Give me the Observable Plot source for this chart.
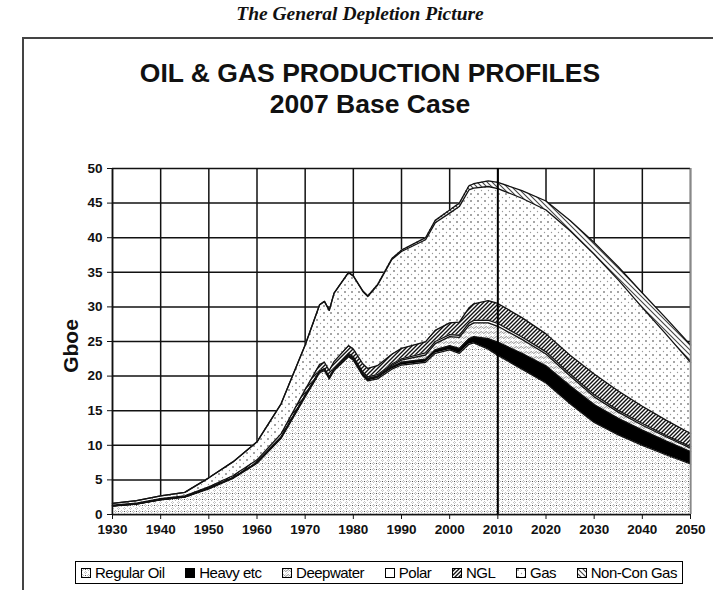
<!DOCTYPE html>
<html><head><meta charset="utf-8">
<script src="https://cdn.jsdelivr.net/npm/d3@7"></script>
<script src="https://cdn.jsdelivr.net/npm/@observablehq/plot@0.6"></script>
<style>
body{margin:0;background:#fff;font-family:"Liberation Sans",Arial,sans-serif;}
#wrap{position:relative;width:713px;height:590px;overflow:hidden;background:#fff;}
#head{position:absolute;left:0;top:3px;width:720px;text-align:center;font-family:"Liberation Serif","Times New Roman",serif;font-style:italic;font-weight:bold;font-size:19.5px;color:#111;}
#box{position:absolute;left:22px;top:37px;width:740px;height:620px;border:2px solid #444;box-sizing:border-box;}
.t{position:absolute;left:0;width:740px;text-align:center;font-weight:bold;font-size:26.5px;color:#111;}
#chart{position:absolute;left:0;top:150px;}
#ylab{position:absolute;left:71px;top:346px;transform:translate(-50%,-50%) rotate(-90deg);font-size:21px;font-weight:bold;color:#111;white-space:nowrap;}
#legend{position:absolute;left:75px;top:561px;width:608px;height:23px;border:1.5px solid #000;box-sizing:border-box;display:flex;align-items:center;justify-content:space-between;padding:0 5px;font-size:15px;letter-spacing:-0.5px;color:#000;white-space:nowrap;}
#legend .it{display:flex;align-items:center;gap:4px;}
</style></head><body>
<div id="wrap">
  <div id="head">The General Depletion Picture</div>
  <div id="box"></div>
  <div class="t" style="top:58px;">OIL &amp; GAS PRODUCTION PROFILES</div>
  <div class="t" style="top:89px;">2007 Base Case</div>
  <div id="chart"></div>
  <div id="ylab">Gboe</div>
  <div id="legend"></div>
</div>
<script>
const years      = [1930,1935,1940,1945,1950,1955,1960,1965,1970,1973,1974,1975,1976,1979,1980,1982,1983,1985,1988,1990,1995,1997,2000,2002,2004,2005,2008,2010,2015,2020,2025,2030,2035,2040,2045,2050];
const regularOil = [1.2,1.5,2.1,2.5,3.7,5.2,7.4,11.0,17.0,20.5,20.8,19.6,20.8,22.8,22.3,20.0,19.3,19.6,21.0,21.6,22.0,23.3,23.8,23.3,24.6,24.8,23.9,23.0,21.0,19.0,16.0,13.3,11.5,10.0,8.6,7.3];
const heavyEtc   = [0.05,0.05,0.05,0.05,0.1,0.1,0.1,0.15,0.2,0.2,0.2,0.2,0.2,0.25,0.25,0.3,0.3,0.3,0.35,0.4,0.45,0.5,0.6,0.7,0.8,0.9,1.5,1.9,2.3,2.5,2.6,2.6,2.4,2.2,2.0,1.8];
const deepwater  = [0,0,0,0,0,0,0,0,0,0,0,0,0,0.05,0.05,0.05,0.1,0.1,0.2,0.3,0.6,0.9,1.3,1.6,1.9,2.0,2.3,2.3,2.0,1.7,1.4,1.1,0.9,0.7,0.6,0.5];
const polar      = [0,0,0,0,0,0,0,0,0.05,0.1,0.1,0.1,0.1,0.2,0.2,0.2,0.2,0.2,0.2,0.2,0.3,0.3,0.3,0.3,0.35,0.35,0.4,0.4,0.35,0.3,0.3,0.3,0.25,0.25,0.2,0.2];
const ngl        = [0.1,0.1,0.15,0.15,0.2,0.3,0.4,0.5,0.8,0.9,0.9,0.9,1.0,1.1,1.1,1.2,1.2,1.3,1.4,1.5,1.6,1.6,1.7,1.9,2.2,2.4,2.8,2.9,2.8,2.6,2.7,3.0,2.8,2.5,2.2,1.9];
const gas        = [0.25,0.35,0.4,0.5,1.3,2.0,2.6,4.35,6.45,8.6,8.8,8.7,9.9,10.55,10.55,10.45,10.4,11.6,13.7,14.0,14.75,15.55,15.85,16.7,17.05,16.7,16.5,16.6,17.25,17.9,18.0,17.3,16.05,14.25,12.4,10.3];
const nonConGas  = [0,0,0,0,0,0,0,0,0,0,0,0,0,0.05,0.05,0.1,0.1,0.1,0.15,0.2,0.3,0.35,0.45,0.5,0.6,0.65,0.8,0.9,1.1,1.3,1.5,1.7,1.9,2.1,2.3,2.5];

const seriesNames = ["Regular Oil","Heavy etc","Deepwater","Polar","NGL","Gas","Non-Con Gas"];
const seriesValues = [regularOil,heavyEtc,deepwater,polar,ngl,gas,nonConGas];
const xTicks = [1930,1940,1950,1960,1970,1980,1990,2000,2010,2020,2030,2040,2050];
const yTicks = [0,5,10,15,20,25,30,35,40,45,50];
const splitYear = [2010];

const fills = ["url(#pReg)","#000","url(#pDeep)","#fff","url(#pNgl)","url(#pGas)","url(#pNon)"];

const rows = [];
seriesNames.forEach((s,i)=>years.forEach((y,j)=>rows.push({series:s,year:y,value:seriesValues[i][j]})));

const svg = Plot.plot({
  width:713, height:394,
  marginLeft:112, marginRight:23, marginTop:18, marginBottom:30,
  style:{fontFamily:"Liberation Sans, Arial, sans-serif", fontSize:"13.5px", fontWeight:"bold", color:"#111", background:"transparent"},
  x:{domain:[1930,2050], ticks:xTicks, tickFormat:d=>String(d), label:null, tickSize:5, tickPadding:5},
  y:{domain:[0,50], ticks:yTicks, label:null, tickSize:5, tickPadding:5},
  color:{domain:seriesNames, range:fills},
  marks:[
    Plot.ruleX(xTicks,{stroke:"#111",strokeWidth:1.5}),
    Plot.ruleY(yTicks,{stroke:"#111",strokeWidth:1.5}),
    Plot.areaY(rows, Plot.stackY({x:"year", y:"value", z:"series", fill:"series", order:seriesNames})),
    Plot.lineY(rows, Plot.stackY2({x:"year", y:"value", z:"series", order:seriesNames, stroke:"#111", strokeWidth:1.3})),
    Plot.ruleX(splitYear,{stroke:"#000",strokeWidth:2}),
    Plot.ruleX([1930],{stroke:"#111",strokeWidth:1.5}),
    Plot.ruleX([2050],{stroke:"#888",strokeWidth:1.5}),
    Plot.ruleY([0],{stroke:"#111",strokeWidth:1.5})
  ]
});

const defs = d3.select(svg).insert("defs",":first-child");
function pat(id,w,h,build){
  const p = defs.append("pattern").attr("id",id).attr("patternUnits","userSpaceOnUse").attr("width",w).attr("height",h);
  p.append("rect").attr("width",w).attr("height",h).attr("fill","#fff");
  build(p);
}
pat("pReg",6,6,p=>{
  p.append("path").attr("d","M1.5,0.5 L2.5,1.5 L1.5,2.5 L0.5,1.5 Z").attr("fill","none").attr("stroke","#8a8a8a").attr("stroke-width",0.7);
  p.append("path").attr("d","M4.5,3.5 L5.5,4.5 L4.5,5.5 L3.5,4.5 Z").attr("fill","none").attr("stroke","#9a9a9a").attr("stroke-width",0.7);
  p.append("circle").attr("cx",4.5).attr("cy",1.5).attr("r",0.6).attr("fill","#333");
});
pat("pGas",7,7,p=>{
  p.append("circle").attr("cx",2).attr("cy",2).attr("r",0.75).attr("fill","#222");
  p.append("circle").attr("cx",5.5).attr("cy",5.5).attr("r",0.65).attr("fill","#999");
});
pat("pNgl",4,4,p=>{
  p.append("path").attr("d","M-1,1 L1,-1 M0,4 L4,0 M3,5 L5,3").attr("stroke","#111").attr("stroke-width",1.4);
});
pat("pDeep",5,5,p=>{
  p.append("path").attr("d","M0,2.5 Q1.25,0.5 2.5,2.5 T5,2.5").attr("fill","none").attr("stroke","#666").attr("stroke-width",0.8);
  p.append("path").attr("d","M0,5 L5,0").attr("stroke","#aaa").attr("stroke-width",0.5);
});
pat("pNon",5,5,p=>{
  p.append("path").attr("d","M-1,-1 L6,6 M-1,4 L1,6 M4,-1 L6,1").attr("stroke","#444").attr("stroke-width",1.1);
});

document.getElementById("chart").appendChild(svg);

const leg = document.getElementById("legend");
seriesNames.forEach((s,i)=>{
  const it = document.createElement("span"); it.className="it";
  it.innerHTML = `<svg width="10" height="10"><rect x="0.5" y="0.5" width="9" height="9" fill="${fills[i]}" stroke="#000" stroke-width="1"/></svg><span>${s}</span>`;
  leg.appendChild(it);
});
</script>
</body></html>
